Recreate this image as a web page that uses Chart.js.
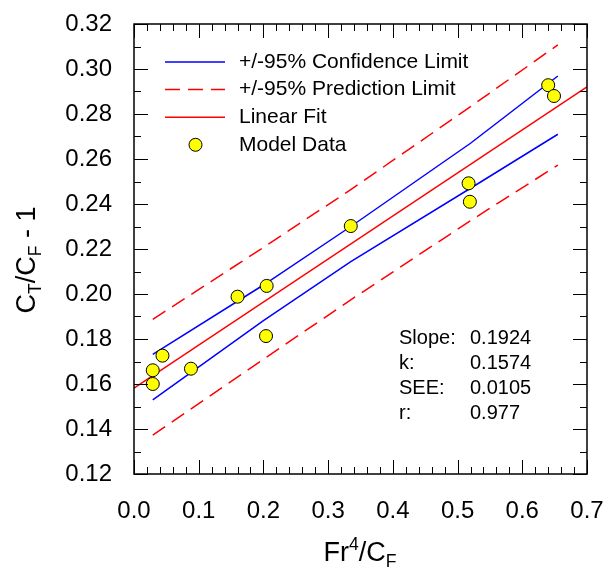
<!DOCTYPE html>
<html>
<head>
<meta charset="utf-8">
<script src="https://cdn.jsdelivr.net/npm/chart.js@4.4.1/dist/chart.umd.min.js"></script>
<style>
  html, body { margin: 0; padding: 0; background: #fff; overflow: hidden; }
  #wrap { width: 613px; height: 568px; }
</style>
</head>
<body>
<div id="wrap"><canvas id="grafico"></canvas></div>
<script>
// model data
const dataX = [0.029, 0.029, 0.044, 0.088, 0.160, 0.205, 0.204, 0.335, 0.517, 0.519, 0.640, 0.649];
const dataY = [0.1661, 0.1600, 0.1726, 0.1668, 0.1988, 0.2036, 0.1813, 0.2302, 0.2492, 0.2410, 0.2928, 0.2880];

// fit line and limit curves
const fitX = [0.0, 0.7];
const fitY = [0.1582, 0.2921];
const limX = [0.029, 0.2, 0.335, 0.52, 0.655];
const confUp = [0.1732, 0.2040, 0.2300, 0.2670, 0.2969];
const confLo = [0.1529, 0.1882, 0.2144, 0.2470, 0.2710];
const predUp = [0.1887, 0.2207, 0.2464, 0.2833, 0.3107];
const predLo = [0.1373, 0.1710, 0.1974, 0.2326, 0.2573];

const statLabels = ["Slope:", "k:", "SEE:", "r:"];
const statValues = ["0.1924", "0.1574", "0.0105", "0.977"];

const FONT = "'Liberation Sans', Arial, sans-serif";
const pts = (xs, ys) => xs.map((x, i) => ({ x: x, y: ys[i] }));

// inward ticks on all four sides + frame
const frameTicks = {
    id: "frameTicks",
    afterDraw(chart) {
        const c = chart.ctx, a = chart.chartArea;
        const xs = chart.scales.x, ys = chart.scales.y;
        c.save();
        c.strokeStyle = "#000";
        c.lineWidth = 1;
        c.beginPath();
        for (let i = 0; i <= 35; i++) {
            const px = Math.round(xs.getPixelForValue(i * 0.02)) + 0.5;
            const len = i % 5 === 0 ? 14 : 7;
            c.moveTo(px, a.bottom); c.lineTo(px, a.bottom - len);
            c.moveTo(px, a.top); c.lineTo(px, a.top + len);
        }
        for (let i = 0; i <= 20; i++) {
            const py = Math.round(ys.getPixelForValue(0.12 + i * 0.01)) + 0.5;
            const len = i % 2 === 0 ? 14 : 7;
            c.moveTo(a.left, py); c.lineTo(a.left + len, py);
            c.moveTo(a.right, py); c.lineTo(a.right - len, py);
        }
        c.stroke();
        c.lineWidth = 1.5;
        c.strokeRect(a.left, a.top, a.right - a.left, a.bottom - a.top);
        c.restore();
    }
};

// draws text with sub/superscript parts
function richText(c, parts, size) {
    let w = 0;
    parts.forEach(p => {
        c.font = (p.s ? size * 0.65 : size) + "px " + FONT;
        p.w = c.measureText(p.t).width;
        w += p.w;
    });
    let x = -w / 2;
    parts.forEach(p => {
        c.font = (p.s ? size * 0.65 : size) + "px " + FONT;
        const dy = p.s === "sub" ? size * 0.22 : p.s === "sup" ? -size * 0.4 : 0;
        c.fillText(p.t, x, dy);
        x += p.w;
    });
}

const extras = {
    id: "extras",
    afterDraw(chart) {
        const c = chart.ctx;
        c.save();
        c.fillStyle = "#000";
        c.textBaseline = "alphabetic";
        c.textAlign = "left";
        // axis titles
        c.save();
        c.translate(360, 561);
        richText(c, [{ t: "Fr" }, { t: "4", s: "sup" }, { t: "/C" }, { t: "F", s: "sub" }], 27);
        c.restore();
        c.save();
        c.translate(35, 260);
        c.rotate(-Math.PI / 2);
        richText(c, [{ t: "C" }, { t: "T", s: "sub" }, { t: "/C" }, { t: "F", s: "sub" }, { t: " - 1" }], 27);
        c.restore();

        // legend
        const ds = chart.data.datasets;
        const order = [1, 2, 3, 0];
        c.font = "21px " + FONT;
        c.textBaseline = "middle";
        order.forEach((di, row) => {
            const d = ds[di];
            const y = 62 + row * 27.6;
            if (d.showLine) {
                c.save();
                c.strokeStyle = d.borderColor;
                c.lineWidth = d.borderWidth;
                c.setLineDash(d.borderDash || []);
                c.beginPath();
                c.moveTo(165, y); c.lineTo(225, y);
                c.stroke();
                c.restore();
            } else {
                c.beginPath();
                c.arc(195.5, y, d.pointRadius, 0, Math.PI * 2);
                c.fillStyle = d.backgroundColor;
                c.fill();
                c.strokeStyle = d.borderColor;
                c.lineWidth = d.borderWidth;
                c.stroke();
            }
            c.fillStyle = "#000";
            c.fillText(d.label, 239, y);
        });

        // fit statistics
        c.font = "20px " + FONT;
        statLabels.forEach((s, i) => {
            const y = 338 + i * 25;
            c.fillText(s, 399, y);
            c.fillText(statValues[i], 470, y);
        });
        c.restore();
    }
};

const ctx = document.getElementById("grafico").getContext("2d");
new Chart(ctx, {
    type: "scatter",
    data: {
        datasets: [{
            label: "Model Data",
            data: pts(dataX, dataY),
            backgroundColor: "#ffff00",
            borderColor: "#000",
            borderWidth: 1,
            pointRadius: 6.5,
            showLine: false
        }, {
            label: "+/-95% Confidence Limit",
            data: pts(limX, confUp),
            borderColor: "#0000ff",
            borderWidth: 1.5,
            pointRadius: 0,
            showLine: true
        }, {
            label: "+/-95% Prediction Limit",
            data: pts(limX, predUp),
            borderColor: "#ff0000",
            borderWidth: 1.5,
            borderDash: [15, 8],
            pointRadius: 0,
            showLine: true
        }, {
            label: "Linear Fit",
            data: pts(fitX, fitY),
            borderColor: "#ff0000",
            borderWidth: 1.5,
            pointRadius: 0,
            showLine: true
        }, {
            label: "conf lower",
            data: pts(limX, confLo),
            borderColor: "#0000ff",
            borderWidth: 1.5,
            pointRadius: 0,
            showLine: true
        }, {
            label: "pred lower",
            data: pts(limX, predLo),
            borderColor: "#ff0000",
            borderWidth: 1.5,
            borderDash: [15, 8],
            pointRadius: 0,
            showLine: true
        }]
    },
    options: {
        responsive: true,
        maintainAspectRatio: false,
        animation: false,
        layout: { padding: { top: 24, right: 26, left: 0, bottom: 0 } },
        plugins: {
            legend: { display: false },
            tooltip: { enabled: false }
        },
        scales: {
            x: {
                type: "linear",
                min: 0, max: 0.7,
                grid: { display: false },
                border: { display: false },
                afterFit: s => { s.height = 94; s.paddingLeft = 0; s.paddingRight = 0; },
                ticks: {
                    stepSize: 0.1,
                    padding: 15,
                    color: "#000",
                    font: { family: FONT, size: 24 },
                    callback: v => v.toFixed(1)
                }
            },
            y: {
                type: "linear",
                min: 0.12, max: 0.32,
                grid: { display: false },
                border: { display: false },
                afterFit: s => { s.width = 134; s.paddingTop = 0; s.paddingBottom = 0; },
                ticks: {
                    stepSize: 0.02,
                    padding: 14,
                    color: "#000",
                    font: { family: FONT, size: 24 },
                    callback: v => v.toFixed(2)
                }
            }
        }
    },
    plugins: [frameTicks, extras]
});
</script>
</body>
</html>
